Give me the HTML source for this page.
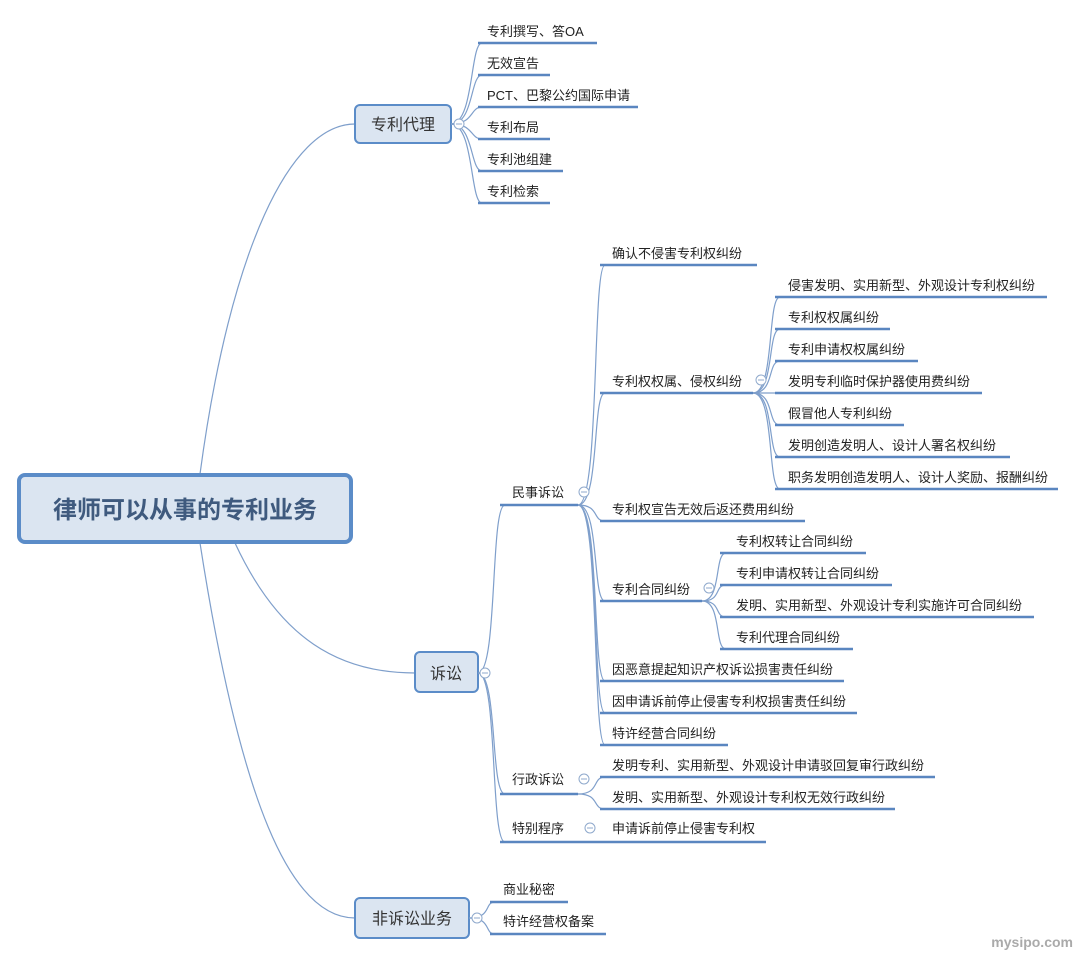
<!DOCTYPE html>
<html><head><meta charset="utf-8"><style>
html,body{margin:0;padding:0;background:#fff;}
svg{display:block;font-family:"Liberation Sans","Noto Sans CJK SC",sans-serif;}
.c{fill:none;stroke:#7f9fcb;stroke-width:1.2;}
.u{stroke:#5a86c0;stroke-width:2.5;}
.t{font-size:13px;fill:#222;}
.o{fill:#fff;stroke:#8fa9cc;stroke-width:1;}
.b{fill:#dbe5f1;stroke:#5b8cc8;stroke-width:2;}
</style></head><body>
<svg width="1078" height="955" viewBox="0 0 1078 955" xmlns="http://www.w3.org/2000/svg">
<!-- root connectors -->
<path class="c" d="M200,474 C230,250 290,124 355,124"/>
<path class="c" d="M235,543 C280,640 340,673 415,673"/>
<path class="c" d="M200,543 C240,800 290,918 355,918"/>

<!-- 专利代理 -->
<rect class="b" x="355" y="105" width="96" height="38" rx="5"/>
<text x="403" y="130" text-anchor="middle" font-size="16" fill="#333">专利代理</text>
<g>
<path class="c" d="M451,124 C474,124 470,43 482,43"/><line class="u" x1="478" y1="43" x2="597" y2="43"/>
<path class="c" d="M451,124 C474,124 470,75 482,75"/><line class="u" x1="478" y1="75" x2="550" y2="75"/>
<path class="c" d="M451,124 C474,124 470,107 482,107"/><line class="u" x1="478" y1="107" x2="638" y2="107"/>
<path class="c" d="M451,124 C474,124 470,139 482,139"/><line class="u" x1="478" y1="139" x2="550" y2="139"/>
<path class="c" d="M451,124 C474,124 470,171 482,171"/><line class="u" x1="478" y1="171" x2="563" y2="171"/>
<path class="c" d="M451,124 C474,124 470,203 482,203"/><line class="u" x1="478" y1="203" x2="550" y2="203"/>
<circle class="o" cx="459" cy="124" r="5"/><line x1="456" y1="124" x2="462" y2="124" stroke="#8fa9cc"/>
<text class="t" x="487" y="36">专利撰写、答OA</text>
<text class="t" x="487" y="68">无效宣告</text>
<text class="t" x="487" y="100">PCT、巴黎公约国际申请</text>
<text class="t" x="487" y="132">专利布局</text>
<text class="t" x="487" y="164">专利池组建</text>
<text class="t" x="487" y="196">专利检索</text>
</g>

<!-- root -->
<rect x="19" y="475" width="332" height="67" rx="6" fill="#dbe5f1" stroke="#5b8cc8" stroke-width="4"/>
<text x="185" y="518" text-anchor="middle" font-size="24" font-weight="bold" fill="#3f5a7e">律师可以从事的专利业务</text>

<!-- 诉讼 -->
<rect class="b" x="415" y="652" width="63" height="40" rx="5"/>
<text x="446" y="679" text-anchor="middle" font-size="16" fill="#333">诉讼</text>
<path class="c" d="M478,673 C498,673 490,505 505,505"/><line class="u" x1="500" y1="505" x2="578" y2="505"/>
<path class="c" d="M478,673 C498,673 490,794 505,794"/><line class="u" x1="500" y1="794" x2="578" y2="794"/>
<path class="c" d="M478,673 C498,673 490,842 505,842"/><line class="u" x1="500" y1="842" x2="578" y2="842"/>
<circle class="o" cx="485" cy="673" r="5"/><line x1="482" y1="673" x2="488" y2="673" stroke="#8fa9cc"/>
<text class="t" x="512" y="497">民事诉讼</text>
<text class="t" x="512" y="784">行政诉讼</text>
<text class="t" x="512" y="833">特别程序</text>

<!-- 民事诉讼 children -->
<g>
<path class="c" d="M578,505 C600,505 592,265 605,265"/><line class="u" x1="600" y1="265" x2="757" y2="265"/>
<path class="c" d="M578,505 C600,505 592,393 605,393"/><line class="u" x1="600" y1="393" x2="753" y2="393"/>
<path class="c" d="M578,505 C600,505 592,521 605,521"/><line class="u" x1="600" y1="521" x2="805" y2="521"/>
<path class="c" d="M578,505 C600,505 592,601 605,601"/><line class="u" x1="600" y1="601" x2="702" y2="601"/>
<path class="c" d="M578,505 C600,505 592,681 605,681"/><line class="u" x1="600" y1="681" x2="844" y2="681"/>
<path class="c" d="M578,505 C600,505 592,713 605,713"/><line class="u" x1="600" y1="713" x2="857" y2="713"/>
<path class="c" d="M578,505 C600,505 592,745 605,745"/><line class="u" x1="600" y1="745" x2="728" y2="745"/>
<circle class="o" cx="584" cy="492" r="5"/><line x1="581" y1="492" x2="587" y2="492" stroke="#8fa9cc"/>
<text class="t" x="612" y="258">确认不侵害专利权纠纷</text>
<text class="t" x="612" y="386">专利权权属、侵权纠纷</text>
<text class="t" x="612" y="514">专利权宣告无效后返还费用纠纷</text>
<text class="t" x="612" y="594">专利合同纠纷</text>
<text class="t" x="612" y="674">因恶意提起知识产权诉讼损害责任纠纷</text>
<text class="t" x="612" y="706">因申请诉前停止侵害专利权损害责任纠纷</text>
<text class="t" x="612" y="738">特许经营合同纠纷</text>
</g>

<!-- 权属 children -->
<g>
<path class="c" d="M753,393 C775,393 767,297 780,297"/><line class="u" x1="775" y1="297" x2="1047" y2="297"/>
<path class="c" d="M753,393 C775,393 767,329 780,329"/><line class="u" x1="775" y1="329" x2="890" y2="329"/>
<path class="c" d="M753,393 C775,393 767,361 780,361"/><line class="u" x1="775" y1="361" x2="918" y2="361"/>
<path class="c" d="M753,393 L780,393"/><line class="u" x1="775" y1="393" x2="982" y2="393"/>
<path class="c" d="M753,393 C775,393 767,425 780,425"/><line class="u" x1="775" y1="425" x2="904" y2="425"/>
<path class="c" d="M753,393 C775,393 767,457 780,457"/><line class="u" x1="775" y1="457" x2="1010" y2="457"/>
<path class="c" d="M753,393 C775,393 767,489 780,489"/><line class="u" x1="775" y1="489" x2="1058" y2="489"/>
<circle class="o" cx="761" cy="380" r="5"/><line x1="758" y1="380" x2="764" y2="380" stroke="#8fa9cc"/>
<text class="t" x="788" y="290">侵害发明、实用新型、外观设计专利权纠纷</text>
<text class="t" x="788" y="322">专利权权属纠纷</text>
<text class="t" x="788" y="354">专利申请权权属纠纷</text>
<text class="t" x="788" y="386">发明专利临时保护器使用费纠纷</text>
<text class="t" x="788" y="418">假冒他人专利纠纷</text>
<text class="t" x="788" y="450">发明创造发明人、设计人署名权纠纷</text>
<text class="t" x="788" y="482">职务发明创造发明人、设计人奖励、报酬纠纷</text>
</g>

<!-- 合同 children -->
<g>
<path class="c" d="M702,601 C722,601 714,553 726,553"/><line class="u" x1="720" y1="553" x2="866" y2="553"/>
<path class="c" d="M702,601 C722,601 714,585 726,585"/><line class="u" x1="720" y1="585" x2="892" y2="585"/>
<path class="c" d="M702,601 C722,601 714,617 726,617"/><line class="u" x1="720" y1="617" x2="1034" y2="617"/>
<path class="c" d="M702,601 C722,601 714,649 726,649"/><line class="u" x1="720" y1="649" x2="853" y2="649"/>
<circle class="o" cx="709" cy="588" r="5"/><line x1="706" y1="588" x2="712" y2="588" stroke="#8fa9cc"/>
<text class="t" x="736" y="546">专利权转让合同纠纷</text>
<text class="t" x="736" y="578">专利申请权转让合同纠纷</text>
<text class="t" x="736" y="610">发明、实用新型、外观设计专利实施许可合同纠纷</text>
<text class="t" x="736" y="642">专利代理合同纠纷</text>
</g>

<!-- 行政 / 特别 -->
<path class="c" d="M578,794 C600,794 592,777 605,777"/><line class="u" x1="600" y1="777" x2="935" y2="777"/>
<path class="c" d="M578,794 C600,794 592,809 605,809"/><line class="u" x1="600" y1="809" x2="895" y2="809"/>
<circle class="o" cx="584" cy="779" r="5"/><line x1="581" y1="779" x2="587" y2="779" stroke="#8fa9cc"/>
<text class="t" x="612" y="770">发明专利、实用新型、外观设计申请驳回复审行政纠纷</text>
<text class="t" x="612" y="802">发明、实用新型、外观设计专利权无效行政纠纷</text>
<line class="u" x1="578" y1="842" x2="766" y2="842"/>
<circle class="o" cx="590" cy="828" r="5"/><line x1="587" y1="828" x2="593" y2="828" stroke="#8fa9cc"/>
<text class="t" x="612" y="833">申请诉前停止侵害专利权</text>

<!-- 非诉讼业务 -->
<rect class="b" x="355" y="898" width="114" height="40" rx="5"/>
<text x="412" y="924" text-anchor="middle" font-size="16" fill="#333">非诉讼业务</text>
<path class="c" d="M469,918 C492,918 484,902 495,902"/><line class="u" x1="490" y1="902" x2="568" y2="902"/>
<path class="c" d="M469,918 C492,918 484,934 495,934"/><line class="u" x1="490" y1="934" x2="606" y2="934"/>
<circle class="o" cx="477" cy="918" r="5"/><line x1="474" y1="918" x2="480" y2="918" stroke="#8fa9cc"/>
<text class="t" x="503" y="894">商业秘密</text>
<text class="t" x="503" y="926">特许经营权备案</text>

<text x="1073" y="947" text-anchor="end" font-size="14" font-weight="bold" fill="#aaa">mysipo.com</text>
</svg>
</body></html>
